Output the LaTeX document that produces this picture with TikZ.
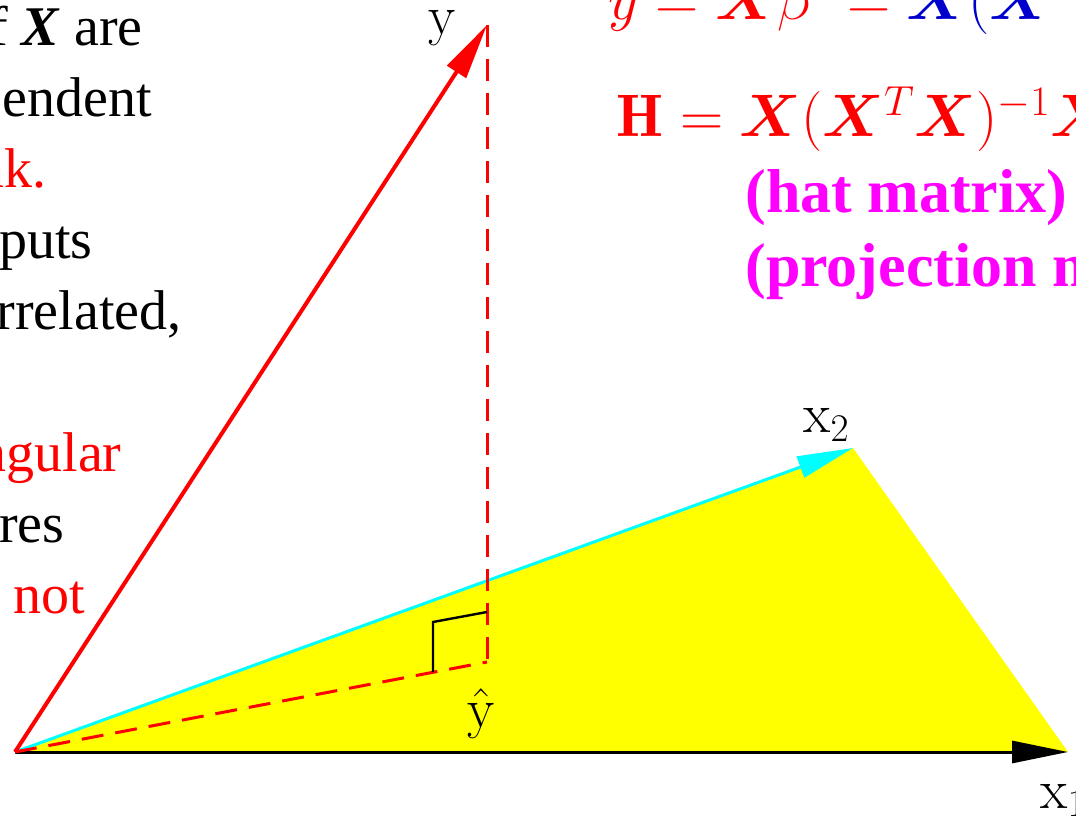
\RequirePackage{fix-cm}
\documentclass[tikz,border=0pt]{standalone}
\usepackage{amsmath,bm}
\usepackage{fontspec}
\usepackage{tikz}
\usetikzlibrary{arrows.meta}
\newfontfamily\slidefont{Liberation Serif}
\definecolor{slideRed}{RGB}{255,0,0}
\definecolor{slideBlue}{RGB}{0,0,204}
\definecolor{hatMagenta}{RGB}{255,0,255}
\definecolor{axisCyan}{RGB}{0,255,255}
\definecolor{planeYellow}{RGB}{255,255,0}

\begin{document}
\begin{tikzpicture}[x=0.5pt,y=0.5pt,
    textline/.style={anchor=base east, inner sep=0pt, font=\slidefont\fontsize{28}{34}\selectfont},
    formula/.style={anchor=base west, inner sep=0pt, font=\fontsize{30}{36}\selectfont},
    note/.style={anchor=base west, inner sep=0pt, text=hatMagenta, font=\slidefont\bfseries\fontsize{31}{37}\selectfont},
    veclabel/.style={anchor=base west, inner sep=0pt, font=\fontsize{28}{33}\selectfont},
    vectip/.style={-{Triangle[length=28pt,width=11pt]}}]
        \useasboundingbox (0,0) rectangle (1076,-817);
        \clip (0,0) rectangle (1076,-817);
        % vectors
        \coordinate (O) at (15,-752);
        \coordinate (ytip) at (487,-25);
        \coordinate (xtwo) at (853,-448);
        \coordinate (xone) at (1068,-752);
        \coordinate (yhat) at (487,-662);
        \coordinate (ra1) at (487,-612);
        \coordinate (ra2) at (433,-622);
        \coordinate (ra3) at (433,-672);
        \fill[planeYellow] (O) -- (xtwo) -- (xone) -- cycle;
        \draw[vectip, line width=1.5pt] (O) -- (xone);
        \draw[vectip, axisCyan, line width=1.5pt] (O) -- (xtwo);
        \draw[vectip, slideRed, line width=2pt] (O) -- (ytip);
        \draw[slideRed, line width=1.5pt, dash pattern=on 11pt off 6pt] (ytip) -- (yhat);
        \draw[slideRed, line width=1.5pt, dash pattern=on 11pt off 6pt] (O) -- (yhat);
        \draw[line width=1.2pt] (ra1) -- (ra2) -- (ra3);
        \node[veclabel] (ylab) at (428,-35) {y};
        \node[veclabel] (xtwolab) at (803,-433) {$\mathrm{x}_2$};
        \node[veclabel] (yhatlab) at (467,-727) {$\hat{\mathrm{y}}$};
        \node[veclabel] (xonelab) at (1040,-808) {$\mathrm{x}_1$};
        % formulas
        \node[formula] (fit) at (608,-20) {$\color{slideRed}\hat{y} = \bm{X}\hat{\beta}\; = \color{slideBlue}\bm{X}(\bm{X}^T\bm{X})^{-1}\bm{X}^T y$};
        \node[formula, text=slideRed] (hat) at (616,-137) {$\mathbf{H} = \bm{X}(\bm{X}^T\bm{X})^{-1}\bm{X}^T$};
        \node[note] (hatname) at (745,-213) {(hat matrix)};
        \node[note] (projname) at (745,-287) {(projection matrix)};
        % left text
        \node[textline] (l1) at (143,-46) {of \textbf{\textit{X}} are};
        \node[textline] (l2) at (152,-117) {independent};
        \node[textline, text=slideRed] (l3) at (47,-188) {full rank.};
        \node[textline] (l4) at (93,-259) {two of the inputs};
        \node[textline] (l5) at (182,-330) {are perfectly correlated,};
        \node[textline, text=slideRed] (l6) at (122,-472) {is singular};
        \node[textline] (l7) at (65,-543) {the least squares};
        \node[textline] (l8) at (85,-614) {coefficients are \textcolor{slideRed}{not}};
      \end{tikzpicture}
\end{document}
